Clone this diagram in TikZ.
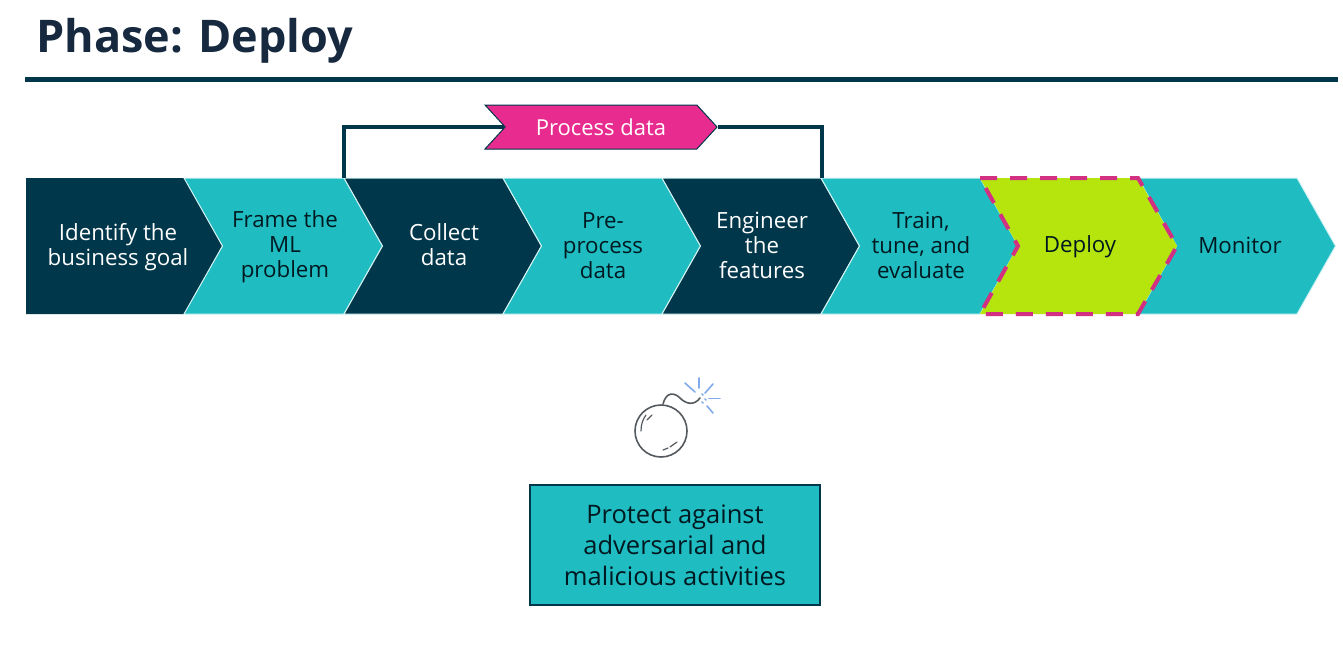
\documentclass[tikz,border=0pt]{standalone}
\usepackage{fontspec}
\setmainfont{Open Sans}
\usetikzlibrary{arrows.meta, positioning, shapes}
\definecolor{awsdark}{RGB}{0, 55, 74}
\definecolor{awsnavy}{RGB}{22, 41, 63}
\definecolor{awsteal}{RGB}{31, 189, 193}
\definecolor{awslime}{RGB}{181, 229, 12}
\definecolor{awspink}{RGB}{232, 43, 142}
\definecolor{awsdash}{RGB}{210, 48, 128}
\definecolor{awsspark}{RGB}{130, 170, 235}
\definecolor{awsbomb}{RGB}{85, 90, 95}
\tikzset{
  steplabel/.style={align=center, text=awsink, font=\fontsize{22.3}{25}\selectfont},
  stepedge/.style={draw=white!80!awsteal, line width=1pt},
  processbox/.style={signal, signal to=east, signal from=west, signal pointer angle=95,
    fill=awspink, draw=awsdark, line width=1pt, minimum width=232pt, minimum height=44pt, inner sep=0pt,
    text=white, font=\fontsize{22}{25}\selectfont},
  goalbox/.style={draw=awsdark, fill=awsteal, line width=1.2pt, minimum width=290pt, minimum height=120pt,
    align=center, font=\fontsize{25.5}{31}\selectfont, text=awsink},
  bombline/.style={draw=awsbomb, line width=1.6pt, line cap=round},
  sparkline/.style={draw=awsspark, line width=1.6pt, line cap=round},
}
\colorlet{awsink}{black!55!awsdark}
\begin{document}
\begin{tikzpicture}[x=1pt, y=-1pt]
\useasboundingbox (0,0) rectangle (1343,664);
\fill[white] (0,0) rectangle (1343,664);

% Title
\node[anchor=base west, inner sep=0pt, text=awsnavy, font=\fontsize{45}{50}\selectfont\bfseries] (title) at (36,52) {Phase: Deploy};
\coordinate (ruleleft) at (25,79);
\coordinate (ruleright) at (1338,79);
\draw[awsdark, line width=5pt] (ruleleft) -- (ruleright);

% Chevrons
\fill[awsdark] (26,178) -- (184,178) -- (222,246) -- (184,314) -- (26,314) -- cycle;
\foreach \xa/\xb/\col in {184/344/awsteal, 344/503/awsdark, 503/662/awsteal, 662/821/awsdark, 821/980/awsteal, 1138/1297/awsteal}
    \path[fill=\col, stepedge] (\xa,178) -- (\xb,178) -- (\xb+38.5,246) -- (\xb,314) -- (\xa,314) -- (\xa+38.5,246) -- cycle;

% Deploy chevron
\fill[awslime] (980,178) -- (1138,178) -- (1177,246) -- (1138,314) -- (980,314) -- (1018,246) -- cycle;
\draw[awsdash, line width=4pt, dash pattern=on 17pt off 13pt] (980,178) -- (1138,178) -- (1177,246) -- (1138,314) -- (980,314) -- (1018,246) -- cycle;

% Labels
\node[steplabel, text=white] (goal) at (118,247) {Identify the\\business goal};
\node[steplabel] (frame) at (285,247) {Frame the\\ML\\problem};
\node[steplabel, text=white] (collect) at (444,245) {Collect\\data};
\node[steplabel] (preprocess) at (603,245.5) {Pre-\\process\\data};
\node[steplabel, text=white] (engineer) at (762,245.5) {Engineer\\the\\features};
\node[steplabel] (train) at (921,245.5) {Train,\\tune, and\\evaluate};
\node[steplabel] (deploy) at (1080,247) {Deploy};
\node[steplabel] (monitor) at (1240,245) {Monitor};

% Process data bracket
\coordinate (collecttop) at (344,178);
\coordinate (engineertop) at (822,178);
\node[processbox] (process) at (601,127) {Process data};
\draw[awsdark, line width=3.2pt] (collecttop) |- (process.west);
\draw[awsdark, line width=3.2pt] (engineertop) |- (process.east);

% Bomb
\draw[bombline] (661,431) circle (26);
\draw[bombline, line width=1.2pt] (641,431) .. controls (641,424) and (643,419) .. (646,415);
\draw[bombline, line width=1.2pt] (647,420) -- (652,415);
\draw[bombline, line width=1.2pt] (663,450) -- (668,448);
\draw[bombline, line width=1.2pt] (670,447) -- (677,442);
\draw[bombline] (663,404) .. controls (666,392) and (674,392) .. (680,398) .. controls (686,404) and (694,406) .. (700,398);
\foreach \xa/\ya/\xb/\yb in {699/378/699/388, 685/383/695/392, 713/384/705/393, 709/398.5/720/398.5, 707/406/713/413, 702/394/703/395, 705/399/706/400, 702/402/703/403}
    \draw[sparkline] (\xa,\ya) -- (\xb,\yb);

% Goal box
\node[goalbox] (protect) at (675,545) {Protect against\\adversarial and\\malicious activities};
\end{tikzpicture}
\end{document}
